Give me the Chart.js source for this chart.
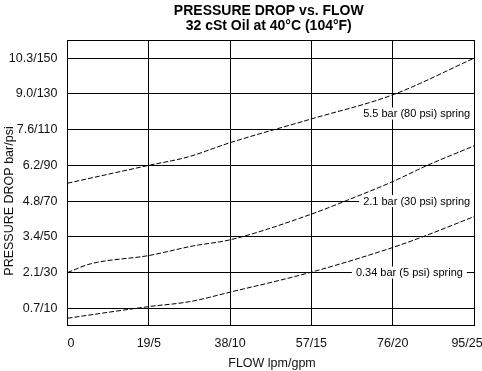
<!DOCTYPE html>
<html>
<head>
<meta charset="utf-8">
<script src="https://cdn.jsdelivr.net/npm/chart.js@4"></script>
<style>
  html, body { margin: 0; padding: 0; background: #fff; }
  #wrap { width: 482px; height: 371px; }
</style>
</head>
<body>
<div id="wrap"><canvas id="pdChart" width="482" height="371"></canvas></div>
<script>
// Ejes
const flowTicks = [0, 19, 38, 57, 76, 95];
const flowLabels = ['0', '19/5', '38/10', '57/15', '76/20', '95/25'];
const psiTicks = [10, 30, 50, 70, 90, 110, 130, 150];
const psiLabels = ['0.7/10', '2.1/30', '3.4/50', '4.8/70', '6.2/90', '7.6/110', '9.0/130', '10.3/150'];

// Curvas (flow en lpm, presion en psi)
const flow80 = [0, 19, 28, 38, 57, 76, 95];
const psi80 = [80, 90, 94.6, 102.7, 116, 129.5, 150];
const flow30 = [0, 5.3, 19, 29.4, 38, 57, 65.2, 76, 84, 95];
const psi30 = [30, 34.8, 39.5, 44.9, 48.3, 62.7, 70.3, 80.9, 89.9, 100.9];
const flow5 = [0, 19, 28.6, 38, 57, 76, 82.8, 95];
const psi5 = [4.4, 10.9, 13.7, 19, 30.2, 44, 49.8, 61.3];

const springNames = ['5.5 bar (80 psi) spring', '2.1 bar (30 psi) spring', '0.34 bar (5 psi) spring'];

const FONT = "'Liberation Sans', Arial, Helvetica, sans-serif";
const FIG_SPACE = '\u2007';

function toPoints(xs, ys) {
    return xs.map((x, i) => ({ x: x, y: ys[i] }));
}

// ancla de cada etiqueta (extremo derecho del texto, en unidades de datos)
const labelAnchors = [[94.1, 119], [94.1, 70], [92.4, 30]];

function align(p) {
    return Math.round(p + 0.5) - 0.5;
}

// primera y ultima etiqueta del eje X quedan dentro del lienzo
function flowTickText(v) {
    const i = flowTicks.indexOf(v);
    if (i === 0) return FIG_SPACE + flowLabels[i];
    if (i === flowTicks.length - 1) return flowLabels[i] + FIG_SPACE + FIG_SPACE;
    return flowLabels[i];
}

const decorPlugin = {
    id: 'decor',
    beforeDatasetsDraw(chart) {
        const ctx = chart.ctx;
        const xs = chart.scales.x, ys = chart.scales.y;
        ctx.save();
        ctx.font = '11px ' + FONT;
        ctx.textAlign = 'right';
        ctx.textBaseline = 'middle';
        springNames.forEach((name, i) => {
            const px = xs.getPixelForValue(labelAnchors[i][0]);
            const py = ys.getPixelForValue(labelAnchors[i][1]);
            const w = ctx.measureText(name).width;
            ctx.fillStyle = '#fff';
            ctx.fillRect(px - w - 4, py - 6, w + 8, 12);
            ctx.fillStyle = '#000';
            ctx.fillText(name, px, py + 0.5);
        });
        ctx.restore();
    },
    afterDraw(chart) {
        const ctx = chart.ctx;
        const a = chart.chartArea;
        ctx.save();
        // marco
        ctx.strokeStyle = '#000';
        ctx.lineWidth = 1;
        ctx.strokeRect(align(a.left), align(a.top), align(a.right) - align(a.left), align(a.bottom) - align(a.top));

        // titulo
        ctx.fillStyle = '#000';
        ctx.textAlign = 'center';
        ctx.textBaseline = 'middle';
        ctx.font = 'bold 14px ' + FONT;
        const cx = (a.left + a.right) / 2 - 2;
        ctx.fillText('PRESSURE DROP vs. FLOW', cx, 11);
        ctx.fillText('32 cSt Oil at 40°C (104°F)', cx, 26);

        // titulos de ejes
        ctx.font = '12.5px ' + FONT;
        ctx.fillStyle = '#111';
        ctx.fillText('FLOW lpm/gpm', 272, 364);
        ctx.translate(10, 201);
        ctx.rotate(-Math.PI / 2);
        ctx.fillText('PRESSURE DROP bar/psi', 0, 0);
        ctx.restore();
    }
};

const lineStyle = {
    borderColor: '#000',
    borderWidth: 1,
    borderDash: [5, 2],
    pointRadius: 0,
    fill: false,
    cubicInterpolationMode: 'monotone'
};

const ctx = document.getElementById('pdChart').getContext('2d');
const pdChart = new Chart(ctx, {
    type: 'line',
    data: {
        datasets: [
            Object.assign({ label: springNames[0], data: toPoints(flow80, psi80) }, lineStyle),
            Object.assign({ label: springNames[1], data: toPoints(flow30, psi30) }, lineStyle),
            Object.assign({ label: springNames[2], data: toPoints(flow5, psi5) }, lineStyle)
        ]
    },
    options: {
        responsive: false,
        animation: false,
        devicePixelRatio: 1,
        layout: { padding: { top: 40, left: 0, right: 8, bottom: 0 } },
        plugins: {
            legend: { display: false },
            tooltip: { enabled: false },
            title: { display: false }
        },
        scales: {
            x: {
                type: 'linear',
                min: 0,
                max: 95,
                afterBuildTicks: s => { s.ticks = flowTicks.map(v => ({ value: v })); },
                afterFit: s => { s.height = 46; s.paddingLeft = 0; s.paddingRight = 0; },
                ticks: {
                    autoSkip: false,
                    maxRotation: 0,
                    padding: 11,
                    color: '#111',
                    font: { family: FONT, size: 12.5 },
                    callback: flowTickText
                },
                grid: { color: '#000', lineWidth: 1, drawTicks: false },
                border: { color: '#000' }
            },
            y: {
                type: 'linear',
                min: 0.6,
                max: 160.2,
                afterBuildTicks: s => { s.ticks = psiTicks.map(v => ({ value: v })); },
                afterFit: s => { s.width = 67.5; s.paddingTop = 0; s.paddingBottom = 0; },
                ticks: {
                    autoSkip: false,
                    padding: 10,
                    color: '#111',
                    font: { family: FONT, size: 12.5 },
                    callback: v => psiLabels[psiTicks.indexOf(v)]
                },
                grid: { color: '#000', lineWidth: 1, drawTicks: false },
                border: { color: '#000' }
            }
        }
    },
    plugins: [decorPlugin]
});
</script>
</body>
</html>
